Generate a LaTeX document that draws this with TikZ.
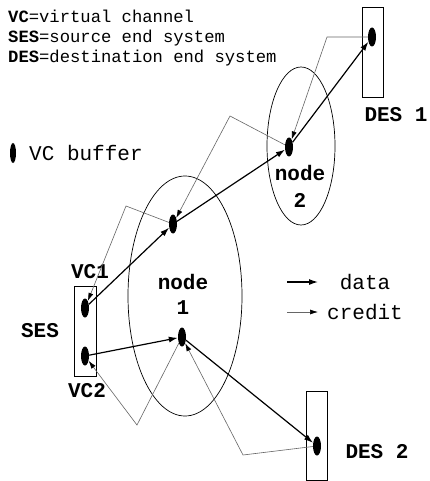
\documentclass[tikz,border=0pt]{standalone}
\usepackage{fontspec}
\setmainfont{Liberation Mono}
\usetikzlibrary{shapes.geometric,arrows.meta}

\begin{document}
\begin{tikzpicture}[x=1pt,y=-1pt,
  buf/.style={ellipse, fill=black, inner sep=0pt, minimum width=8pt, minimum height=19pt},
  host/.style={draw, line width=0.8pt},
  zone/.style={ellipse, draw, line width=0.7pt, inner sep=0pt},
  datapath/.style={line width=1.2pt, -{Latex[length=9pt,width=6pt]}},
  creditpath/.style={line width=0.6pt, black!60, -{Latex[length=8pt,width=5pt,color=black]}},
  lbl/.style={font=\fontsize{21}{26}\selectfont\bfseries, align=center, inner sep=0pt},
  keytext/.style={font=\fontsize{17.2}{20}\selectfont, anchor=base west, inner sep=0pt},
  bigtext/.style={font=\fontsize{21}{26}\selectfont, inner sep=0pt},
  ]
  \fill[white] (0,0) rectangle (429,481);
  \useasboundingbox (0,0) rectangle (429,481);

  % abbreviations
  \node[keytext] (k1) at (8,23) {\textbf{VC}=virtual channel};
  \node[keytext] (k2) at (8,43) {\textbf{SES}=source end system};
  \node[keytext] (k3) at (8,63) {\textbf{DES}=destination end system};

  % buffer symbol
  \node[buf, minimum width=6pt, minimum height=20pt] (kbuf) at (13,153) {};
  \node[bigtext, anchor=west] (kbuftxt) at (29,153) {VC buffer};

  % switching nodes
  \node[zone, minimum width=114pt, minimum height=240pt] (z1) at (185,296) {};
  \node[zone, minimum width=68pt, minimum height=158pt] (z2) at (301,146) {};
  \node[lbl] (z1a) at (183,282) {node};
  \node[lbl] (z1b) at (183,308) {1};
  \node[lbl] (z2a) at (300,173) {node};
  \node[lbl] (z2b) at (300,200) {2};

  % end systems
  \draw[host] (74,286) rectangle (96,376);
  \draw[host] (362,7) rectangle (383,97);
  \draw[host] (306,391) rectangle (327,480);
  \node[lbl] (ses) at (40,331) {SES};
  \node[lbl] (vc1t) at (90,272) {VC1};
  \node[lbl] (vc2t) at (87,391) {VC2};
  \node[lbl] (des1) at (396,115) {DES 1};
  \node[lbl] (des2) at (377,452) {DES 2};

  % buffers
  \node[buf] (vc1) at (85,308) {};
  \node[buf] (vc2) at (85,356) {};
  \node[buf] (n1a) at (173,224) {};
  \node[buf] (n1b) at (182,337) {};
  \node[buf] (n2) at (289,147) {};
  \node[buf] (d1) at (372,37) {};
  \node[buf] (d2) at (317,446) {};

  % data flow
  \draw[datapath] (vc1) -- (n1a);
  \draw[datapath] (n1a) -- (n2);
  \draw[datapath] (n2) -- (d1);
  \draw[datapath] (vc2) -- (n1b);
  \draw[datapath] (n1b) -- (d2);

  % credit flow, bent return paths
  \coordinate (c1) at (327,37);
  \coordinate (c2) at (230,116);
  \coordinate (c3) at (126,206);
  \coordinate (c4) at (243,455);
  \coordinate (c5) at (137,425);
  \draw[creditpath] (d1) -- (c1) -- (n2);
  \draw[creditpath] (n2) -- (c2) -- (n1a);
  \draw[creditpath] (n1a) -- (c3) -- (vc1);
  \draw[creditpath] (d2) -- (c4) -- (n1b);
  \draw[creditpath] (n1b) -- (c5) -- (vc2);

  % line legend
  \coordinate (ka) at (287,282);
  \coordinate (kb) at (318,282);
  \coordinate (kc) at (287,312);
  \coordinate (kd) at (318,312);
  \draw[datapath] (ka) -- (kb);
  \draw[creditpath] (kc) -- (kd);
  \node[bigtext] (kdata) at (365,282) {data};
  \node[bigtext] (kcred) at (365,312) {credit};
\end{tikzpicture}
\end{document}
